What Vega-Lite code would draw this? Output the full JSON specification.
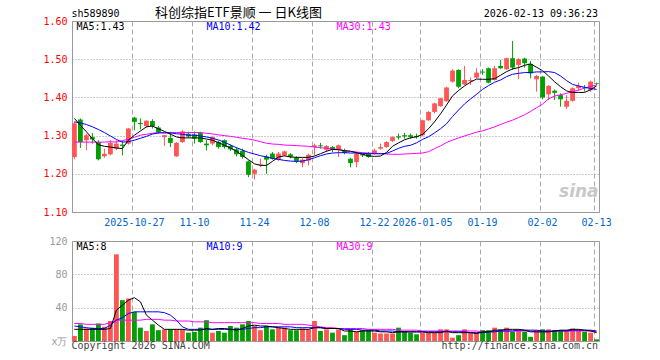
{
"$schema": "https://vega.github.io/schema/vega-lite/v6.json",
"background": "white",
"padding": {"left": 42, "top": 6, "right": 0, "bottom": 0},
"bounds": "flush",
"spacing": 29,
"config": {"font": "DejaVu Sans Mono", "view": {"stroke": "#999999", "strokeWidth": 1}},
"datasets": {"k": [
{"d":"2025-10-13","o":1.244,"h":1.336,"l":1.238,"c":1.332,"v":6,"m5":1.345,"m10":1.336,"m30":1.283,"v5":14,"v10":18,"v30":21},
{"d":"2025-10-14","o":1.342,"h":1.345,"l":1.2675,"c":1.283,"v":20,"m5":1.327,"m10":1.333,"m30":1.283,"v5":14,"v10":17,"v30":21},
{"d":"2025-10-15","o":1.288,"h":1.305,"l":1.2615,"c":1.301,"v":15,"m5":1.31,"m10":1.329,"m30":1.283,"v5":14,"v10":16,"v30":20},
{"d":"2025-10-16","o":1.296,"h":1.307,"l":1.279,"c":1.29,"v":16,"m5":1.292,"m10":1.323,"m30":1.283,"v5":14,"v10":15,"v30":20},
{"d":"2025-10-17","o":1.283,"h":1.288,"l":1.235,"c":1.238,"v":21,"m5":1.276,"m10":1.316,"m30":1.283,"v5":14,"v10":15,"v30":20},
{"d":"2025-10-20","o":1.2457,"h":1.2658,"l":1.242,"c":1.2527,"v":17,"m5":1.272,"m10":1.308,"m30":1.283,"v5":14,"v10":15,"v30":20},
{"d":"2025-10-21","o":1.251,"h":1.288,"l":1.248,"c":1.281,"v":24,"m5":1.27,"m10":1.299,"m30":1.284,"v5":15,"v10":19,"v30":22},
{"d":"2025-10-22","o":1.2658,"h":1.288,"l":1.2615,"c":1.279,"v":104,"m5":1.2675,"m10":1.29,"m30":1.283,"v5":37,"v10":25,"v30":25},
{"d":"2025-10-23","o":1.2764,"h":1.286,"l":1.248,"c":1.273,"v":49,"m5":1.266,"m10":1.283,"m30":1.287,"v5":43,"v10":28,"v30":25},
{"d":"2025-10-24","o":1.279,"h":1.32,"l":1.2764,"c":1.3185,"v":51,"m5":1.288,"m10":1.284,"m30":1.29,"v5":49,"v10":33,"v30":25},
{"d":"2025-10-27","o":1.347,"h":1.349,"l":1.314,"c":1.336,"v":35,"m5":1.301,"m10":1.288,"m30":1.2956,"v5":52,"v10":35,"v30":25},
{"d":"2025-10-28","o":1.333,"h":1.345,"l":1.316,"c":1.33,"v":16,"m5":1.312,"m10":1.293,"m30":1.301,"v5":47,"v10":35,"v30":25},
{"d":"2025-10-29","o":1.325,"h":1.34,"l":1.321,"c":1.339,"v":12,"m5":1.323,"m10":1.298,"m30":1.3035,"v5":31,"v10":35,"v30":26},
{"d":"2025-10-30","o":1.338,"h":1.343,"l":1.3185,"c":1.325,"v":20,"m5":1.325,"m10":1.304,"m30":1.306,"v5":25,"v10":35,"v30":26},
{"d":"2025-10-31","o":1.321,"h":1.325,"l":1.305,"c":1.309,"v":13,"m5":1.318,"m10":1.307,"m30":1.308,"v5":19,"v10":35,"v30":26},
{"d":"2025-11-03","o":1.296,"h":1.301,"l":1.273,"c":1.301,"v":14,"m5":1.311,"m10":1.307,"m30":1.308,"v5":14,"v10":34,"v30":25},
{"d":"2025-11-04","o":1.294,"h":1.31,"l":1.27,"c":1.281,"v":14,"m5":1.3035,"m10":1.307,"m30":1.308,"v5":14,"v10":31,"v30":25},
{"d":"2025-11-05","o":1.2457,"h":1.283,"l":1.244,"c":1.281,"v":14,"m5":1.2965,"m10":1.305,"m30":1.308,"v5":14,"v10":25,"v30":24},
{"d":"2025-11-06","o":1.283,"h":1.314,"l":1.281,"c":1.311,"v":14,"m5":1.294,"m10":1.3035,"m30":1.308,"v5":14,"v10":17,"v30":24},
{"d":"2025-11-07","o":1.305,"h":1.31,"l":1.294,"c":1.298,"v":10,"m5":1.294,"m10":1.301,"m30":1.308,"v5":13,"v10":14,"v30":24},
{"d":"2025-11-10","o":1.303,"h":1.31,"l":1.279,"c":1.292,"v":11,"m5":1.294,"m10":1.301,"m30":1.308,"v5":13,"v10":14,"v30":23},
{"d":"2025-11-11","o":1.307,"h":1.31,"l":1.281,"c":1.283,"v":16,"m5":1.294,"m10":1.299,"m30":1.308,"v5":13,"v10":14,"v30":23},
{"d":"2025-11-12","o":1.279,"h":1.288,"l":1.2615,"c":1.2746,"v":25,"m5":1.291,"m10":1.2965,"m30":1.306,"v5":15,"v10":14,"v30":23},
{"d":"2025-11-13","o":1.279,"h":1.298,"l":1.2746,"c":1.296,"v":10,"m5":1.288,"m10":1.293,"m30":1.3044,"v5":14,"v10":14,"v30":22},
{"d":"2025-11-14","o":1.283,"h":1.286,"l":1.2658,"c":1.27,"v":12,"m5":1.2816,"m10":1.2886,"m30":1.3018,"v5":15,"v10":14,"v30":22},
{"d":"2025-11-17","o":1.288,"h":1.29,"l":1.2658,"c":1.27,"v":10,"m5":1.2746,"m10":1.2825,"m30":1.3,"v5":15,"v10":14,"v30":22},
{"d":"2025-11-18","o":1.273,"h":1.277,"l":1.26,"c":1.264,"v":18,"m5":1.2675,"m10":1.2754,"m30":1.298,"v5":14,"v10":14,"v30":22},
{"d":"2025-11-19","o":1.264,"h":1.27,"l":1.2457,"c":1.251,"v":16,"m5":1.259,"m10":1.2684,"m30":1.2956,"v5":13,"v10":14,"v30":22},
{"d":"2025-11-20","o":1.26,"h":1.2658,"l":1.2395,"c":1.244,"v":20,"m5":1.248,"m10":1.262,"m30":1.293,"v5":15,"v10":14,"v30":22},
{"d":"2025-11-21","o":1.2325,"h":1.235,"l":1.1913,"c":1.1975,"v":24,"m5":1.237,"m10":1.256,"m30":1.291,"v5":18,"v10":15,"v30":22},
{"d":"2025-11-24","o":1.2,"h":1.213,"l":1.185,"c":1.2108,"v":18,"m5":1.226,"m10":1.2518,"m30":1.288,"v5":19,"v10":16,"v30":22},
{"d":"2025-11-25","o":1.224,"h":1.2395,"l":1.2174,"c":1.226,"v":13,"m5":1.222,"m10":1.2474,"m30":1.284,"v5":18,"v10":16,"v30":21},
{"d":"2025-11-26","o":1.2455,"h":1.25,"l":1.2,"c":1.237,"v":18,"m5":1.222,"m10":1.244,"m30":1.28,"v5":18,"v10":17,"v30":21},
{"d":"2025-11-27","o":1.253,"h":1.257,"l":1.237,"c":1.2395,"v":14,"m5":1.2325,"m10":1.2404,"m30":1.278,"v5":17,"v10":17,"v30":21},
{"d":"2025-11-28","o":1.237,"h":1.257,"l":1.233,"c":1.253,"v":16,"m5":1.244,"m10":1.2377,"m30":1.277,"v5":16,"v10":17,"v30":21},
{"d":"2025-12-01","o":1.248,"h":1.261,"l":1.246,"c":1.2587,"v":16,"m5":1.247,"m10":1.235,"m30":1.2754,"v5":15,"v10":17,"v30":20},
{"d":"2025-12-02","o":1.251,"h":1.254,"l":1.24,"c":1.2445,"v":13,"m5":1.244,"m10":1.2333,"m30":1.2746,"v5":14,"v10":17,"v30":20},
{"d":"2025-12-03","o":1.242,"h":1.246,"l":1.228,"c":1.233,"v":13,"m5":1.243,"m10":1.2325,"m30":1.2737,"v5":14,"v10":16,"v30":20},
{"d":"2025-12-04","o":1.228,"h":1.241,"l":1.2174,"c":1.237,"v":15,"m5":1.243,"m10":1.2333,"m30":1.2728,"v5":14,"v10":16,"v30":20},
{"d":"2025-12-05","o":1.235,"h":1.2527,"l":1.222,"c":1.25,"v":14,"m5":1.243,"m10":1.2368,"m30":1.272,"v5":14,"v10":16,"v30":19},
{"d":"2025-12-08","o":1.27,"h":1.279,"l":1.248,"c":1.2745,"v":24,"m5":1.2465,"m10":1.242,"m30":1.27,"v5":16,"v10":16,"v30":18},
{"d":"2025-12-09","o":1.2745,"h":1.281,"l":1.266,"c":1.272,"v":12,"m5":1.2526,"m10":1.2474,"m30":1.2684,"v5":16,"v10":16,"v30":17},
{"d":"2025-12-10","o":1.263,"h":1.275,"l":1.257,"c":1.2727,"v":14,"m5":1.259,"m10":1.2518,"m30":1.2667,"v5":15,"v10":15,"v30":16},
{"d":"2025-12-11","o":1.27,"h":1.273,"l":1.257,"c":1.263,"v":10,"m5":1.264,"m10":1.2544,"m30":1.265,"v5":15,"v10":15,"v30":16},
{"d":"2025-12-12","o":1.264,"h":1.2764,"l":1.244,"c":1.2746,"v":14,"m5":1.263,"m10":1.2553,"m30":1.264,"v5":15,"v10":15,"v30":15},
{"d":"2025-12-15","o":1.26,"h":1.2658,"l":1.251,"c":1.2545,"v":7,"m5":1.2605,"m10":1.2553,"m30":1.2605,"v5":12,"v10":14,"v30":15},
{"d":"2025-12-16","o":1.2395,"h":1.242,"l":1.217,"c":1.228,"v":14,"m5":1.259,"m10":1.2544,"m30":1.2588,"v5":12,"v10":14,"v30":15},
{"d":"2025-12-17","o":1.2307,"h":1.257,"l":1.217,"c":1.2527,"v":11,"m5":1.2553,"m10":1.2544,"m30":1.257,"v5":11,"v10":14,"v30":15},
{"d":"2025-12-18","o":1.251,"h":1.2527,"l":1.244,"c":1.248,"v":13,"m5":1.251,"m10":1.2535,"m30":1.2553,"v5":12,"v10":13,"v30":15},
{"d":"2025-12-19","o":1.2527,"h":1.257,"l":1.242,"c":1.244,"v":13,"m5":1.247,"m10":1.2526,"m30":1.2544,"v5":12,"v10":13,"v30":14},
{"d":"2025-12-22","o":1.2527,"h":1.2658,"l":1.25,"c":1.2615,"v":10,"m5":1.2456,"m10":1.2526,"m30":1.2535,"v5":12,"v10":13,"v30":14},
{"d":"2025-12-23","o":1.2658,"h":1.279,"l":1.263,"c":1.27,"v":9,"m5":1.2465,"m10":1.2526,"m30":1.2526,"v5":11,"v10":12,"v30":14},
{"d":"2025-12-24","o":1.27,"h":1.2855,"l":1.2685,"c":1.283,"v":9,"m5":1.256,"m10":1.2535,"m30":1.2518,"v5":11,"v10":12,"v30":14},
{"d":"2025-12-25","o":1.286,"h":1.298,"l":1.283,"c":1.296,"v":9,"m5":1.272,"m10":1.2596,"m30":1.251,"v5":10,"v10":12,"v30":14},
{"d":"2025-12-26","o":1.298,"h":1.305,"l":1.29,"c":1.295,"v":16,"m5":1.281,"m10":1.2667,"m30":1.251,"v5":11,"v10":11,"v30":13},
{"d":"2025-12-29","o":1.301,"h":1.307,"l":1.292,"c":1.298,"v":12,"m5":1.289,"m10":1.272,"m30":1.2518,"v5":11,"v10":11,"v30":13},
{"d":"2025-12-30","o":1.301,"h":1.305,"l":1.292,"c":1.296,"v":10,"m5":1.294,"m10":1.2746,"m30":1.2526,"v5":11,"v10":11,"v30":13},
{"d":"2025-12-31","o":1.299,"h":1.305,"l":1.292,"c":1.296,"v":8,"m5":1.297,"m10":1.281,"m30":1.2535,"v5":11,"v10":11,"v30":13},
{"d":"2026-01-05","o":1.301,"h":1.342,"l":1.298,"c":1.34,"v":10,"m5":1.303,"m10":1.29,"m30":1.2544,"v5":11,"v10":11,"v30":12},
{"d":"2026-01-06","o":1.34,"h":1.364,"l":1.339,"c":1.362,"v":10,"m5":1.318,"m10":1.297,"m30":1.258,"v5":10,"v10":11,"v30":12},
{"d":"2026-01-07","o":1.362,"h":1.386,"l":1.358,"c":1.3842,"v":10,"m5":1.336,"m10":1.307,"m30":1.266,"v5":10,"v10":11,"v30":12},
{"d":"2026-01-08","o":1.377,"h":1.399,"l":1.3755,"c":1.3975,"v":14,"m5":1.357,"m10":1.318,"m30":1.273,"v5":10,"v10":11,"v30":12},
{"d":"2026-01-09","o":1.39,"h":1.428,"l":1.3886,"c":1.426,"v":14,"m5":1.38,"m10":1.331,"m30":1.282,"v5":12,"v10":11,"v30":12},
{"d":"2026-01-12","o":1.4412,"h":1.4737,"l":1.4386,"c":1.4702,"v":4,"m5":1.404,"m10":1.35,"m30":1.288,"v5":10,"v10":11,"v30":12},
{"d":"2026-01-13","o":1.472,"h":1.4737,"l":1.424,"c":1.428,"v":7,"m5":1.418,"m10":1.367,"m30":1.294,"v5":10,"v10":11,"v30":12},
{"d":"2026-01-14","o":1.434,"h":1.4825,"l":1.4325,"c":1.4456,"v":14,"m5":1.43,"m10":1.383,"m30":1.299,"v5":10,"v10":11,"v30":12},
{"d":"2026-01-15","o":1.443,"h":1.4526,"l":1.4325,"c":1.4456,"v":10,"m5":1.44,"m10":1.396,"m30":1.304,"v5":10,"v10":10,"v30":12},
{"d":"2026-01-16","o":1.4518,"h":1.4763,"l":1.45,"c":1.465,"v":10,"m5":1.448,"m10":1.408,"m30":1.309,"v5":9,"v10":10,"v30":12},
{"d":"2026-01-19","o":1.4676,"h":1.4737,"l":1.459,"c":1.465,"v":13,"m5":1.4474,"m10":1.421,"m30":1.3123,"v5":11,"v10":10,"v30":11},
{"d":"2026-01-20","o":1.4763,"h":1.478,"l":1.4368,"c":1.4386,"v":13,"m5":1.4474,"m10":1.431,"m30":1.3175,"v5":11,"v10":11,"v30":11},
{"d":"2026-01-21","o":1.4456,"h":1.4825,"l":1.4439,"c":1.4763,"v":16,"m5":1.449,"m10":1.4395,"m30":1.3228,"v5":13,"v10":11,"v30":11},
{"d":"2026-01-22","o":1.4825,"h":1.498,"l":1.4737,"c":1.4763,"v":14,"m5":1.458,"m10":1.4456,"m30":1.329,"v5":13,"v10":12,"v30":12},
{"d":"2026-01-23","o":1.4737,"h":1.504,"l":1.472,"c":1.5026,"v":16,"m5":1.4675,"m10":1.4544,"m30":1.335,"v5":14,"v10":12,"v30":12},
{"d":"2026-01-26","o":1.5026,"h":1.548,"l":1.472,"c":1.478,"v":11,"m5":1.4746,"m10":1.4605,"m30":1.3404,"v5":14,"v10":12,"v30":12},
{"d":"2026-01-27","o":1.485,"h":1.5026,"l":1.4474,"c":1.5,"v":13,"m5":1.478,"m10":1.463,"m30":1.3474,"v5":14,"v10":13,"v30":12},
{"d":"2026-01-28","o":1.5017,"h":1.504,"l":1.478,"c":1.4895,"v":11,"m5":1.484,"m10":1.465,"m30":1.3544,"v5":13,"v10":13,"v30":12},
{"d":"2026-01-29","o":1.4877,"h":1.4956,"l":1.45,"c":1.463,"v":5,"m5":1.4877,"m10":1.465,"m30":1.3632,"v5":11,"v10":13,"v30":12},
{"d":"2026-01-30","o":1.4474,"h":1.459,"l":1.415,"c":1.456,"v":13,"m5":1.479,"m10":1.4667,"m30":1.3728,"v5":11,"v10":13,"v30":11},
{"d":"2026-02-02","o":1.4544,"h":1.456,"l":1.395,"c":1.4,"v":14,"m5":1.47,"m10":1.4667,"m30":1.3825,"v5":11,"v10":12,"v30":11},
{"d":"2026-02-03","o":1.408,"h":1.4325,"l":1.393,"c":1.43,"v":14,"m5":1.456,"m10":1.4675,"m30":1.3965,"v5":11,"v10":12,"v30":11},
{"d":"2026-02-04","o":1.4175,"h":1.421,"l":1.393,"c":1.412,"v":13,"m5":1.441,"m10":1.465,"m30":1.4035,"v5":12,"v10":12,"v30":12},
{"d":"2026-02-05","o":1.406,"h":1.4105,"l":1.3755,"c":1.395,"v":13,"m5":1.428,"m10":1.456,"m30":1.407,"v5":13,"v10":12,"v30":12},
{"d":"2026-02-06","o":1.3755,"h":1.406,"l":1.37,"c":1.391,"v":13,"m5":1.417,"m10":1.444,"m30":1.4105,"v5":13,"v10":12,"v30":12},
{"d":"2026-02-09","o":1.391,"h":1.426,"l":1.3886,"c":1.424,"v":15,"m5":1.413,"m10":1.434,"m30":1.415,"v5":14,"v10":13,"v30":12},
{"d":"2026-02-10","o":1.424,"h":1.4386,"l":1.4175,"c":1.43,"v":13,"m5":1.413,"m10":1.43,"m30":1.419,"v5":14,"v10":13,"v30":12},
{"d":"2026-02-11","o":1.426,"h":1.4325,"l":1.415,"c":1.424,"v":11,"m5":1.413,"m10":1.4263,"m30":1.4246,"v5":13,"v10":13,"v30":12},
{"d":"2026-02-12","o":1.419,"h":1.4439,"l":1.415,"c":1.4412,"v":10,"m5":1.42,"m10":1.4237,"m30":1.429,"v5":12,"v10":13,"v30":12},
{"d":"2026-02-13","o":1.4368,"h":1.4386,"l":1.4325,"c":1.435,"v":2,"m5":1.43,"m10":1.421,"m30":1.4325,"v5":10,"v10":12,"v30":11}
]},
"vconcat": [
{
"width": 527, "height": 191,
"data": {"name": "k"},
"encoding": {"x": {"field": "d", "type": "ordinal", "scale": {"type": "band", "paddingInner": 0.2, "paddingOuter": 0},
  "axis": {"values": ["2025-10-27","2025-11-10","2025-11-24","2025-12-08","2025-12-22","2026-01-05","2026-01-19","2026-02-02","2026-02-13"],
   "labelExpr": "(datum.value == '2025-10-27' || datum.value == '2026-01-05') ? datum.value : slice(datum.value, 5)",
   "bandPosition": 0, "grid": true, "gridDash": [5,3], "gridColor": "#aaaaaa", "ticks": false, "domain": false,
   "labelColor": "#0066cc", "labelFontSize": 10, "labelPadding": 5, "labelAngle": 0, "labelOverlap": false, "title": null}}},
"layer": [
 {"mark": {"type": "rule", "strokeWidth": 1},
  "encoding": {"y": {"field": "l", "type": "quantitative", "title": null, "scale": {"domain": [1.1, 1.6], "zero": false, "nice": false},
     "axis": {"values": [1.1,1.2,1.3,1.4,1.5,1.6], "tickCount": 20, "format": ".2f", "grid": true, "gridDash": [1,2], "gridColor": "#999999", "labelColor": "#ff0000", "ticks": false, "domain": false, "labelPadding": 5, "labelFontSize": 10, "labelOverlap": false, "labelBound": false, "labelFlush": false}},
   "y2": {"field": "h"},
   "color": {"condition": {"test": "datum.c >= datum.o", "value": "#ff5555"}, "value": "#00a000"}}},
 {"mark": {"type": "bar"},
  "encoding": {"y": {"field": "o", "type": "quantitative", "title": null}, "y2": {"field": "c"},
   "color": {"condition": {"test": "datum.c >= datum.o", "value": "#ff5555"}, "value": "#00a000"}}},
 {"mark": {"type": "line", "color": "#ff00ff", "strokeWidth": 1}, "encoding": {"y": {"field": "m30", "type": "quantitative", "title": null}}},
 {"mark": {"type": "line", "color": "#0000ff", "strokeWidth": 1}, "encoding": {"y": {"field": "m10", "type": "quantitative", "title": null}}},
 {"mark": {"type": "line", "color": "#000000", "strokeWidth": 1}, "encoding": {"y": {"field": "m5", "type": "quantitative", "title": null}}},
 {"data": {"values": [{"t": "sh589890"}]}, "mark": {"type": "text", "align": "left", "baseline": "alphabetic", "dx": -3, "dy": -4, "fontSize": 10, "color": "#000000"},
  "encoding": {"x": {"datum": "2025-10-13"}, "y": {"datum": 1.6}, "text": {"field": "t"}}},
 {"data": {"values": [{"t": "科创综指ETF景顺 一 日K线图"}]}, "mark": {"type": "text", "align": "center", "baseline": "alphabetic", "dx": 2, "dy": -4, "fontSize": 13, "font": "Noto Sans CJK SC", "color": "#000000"},
  "encoding": {"x": {"datum": "2025-11-19"}, "y": {"datum": 1.6}, "text": {"field": "t"}}},
 {"data": {"values": [{"t": "2026-02-13 09:36:23"}]}, "mark": {"type": "text", "align": "right", "baseline": "alphabetic", "dx": 1.5, "dy": -4, "fontSize": 10, "color": "#000000"},
  "encoding": {"x": {"datum": "2026-02-13"}, "y": {"datum": 1.6}, "text": {"field": "t"}}},
 {"data": {"values": [{"t": "MA5:1.43"}]}, "mark": {"type": "text", "align": "left", "baseline": "top", "dx": 2, "dy": 1, "fontSize": 10, "color": "#000000"},
  "encoding": {"x": {"datum": "2025-10-13"}, "y": {"datum": 1.6}, "text": {"field": "t"}}},
 {"data": {"values": [{"t": "MA10:1.42"}]}, "mark": {"type": "text", "align": "left", "baseline": "top", "dx": 0, "dy": 1, "fontSize": 10, "color": "#0000ff"},
  "encoding": {"x": {"datum": "2025-11-12"}, "y": {"datum": 1.6}, "text": {"field": "t"}}},
 {"data": {"values": [{"t": "MA30:1.43"}]}, "mark": {"type": "text", "align": "left", "baseline": "top", "dx": -2, "dy": 1, "fontSize": 10, "color": "#ff00ff"},
  "encoding": {"x": {"datum": "2025-12-12"}, "y": {"datum": 1.6}, "text": {"field": "t"}}},
 {"data": {"values": [{"t": "sina"}]}, "mark": {"type": "text", "align": "right", "baseline": "bottom", "dx": 2, "fontSize": 17, "font": "DejaVu Sans", "fontStyle": "italic", "fontWeight": "bold", "color": "#c8c8c8"},
  "encoding": {"x": {"datum": "2026-02-13"}, "y": {"datum": 1.13}, "text": {"field": "t"}}}
]
},
{
"width": 527, "height": 100,
"data": {"name": "k"},
"encoding": {"x": {"field": "d", "type": "ordinal", "scale": {"type": "band", "paddingInner": 0.2, "paddingOuter": 0},
  "axis": {"values": ["2025-10-27","2025-11-10","2025-11-24","2025-12-08","2025-12-22","2026-01-05","2026-01-19","2026-02-02","2026-02-13"],
   "bandPosition": 0, "grid": true, "gridDash": [5,3], "gridColor": "#aaaaaa", "ticks": false, "domain": false, "labels": false, "title": null}}},
"layer": [
 {"mark": {"type": "bar"},
  "encoding": {"y": {"field": "v", "type": "quantitative", "title": null, "scale": {"domain": [0, 120], "nice": false},
     "axis": {"values": [0,40,80,120], "tickCount": 20, "labelExpr": "datum.value == 0 ? 'x万' : datum.label", "grid": true, "gridDash": [1,2], "gridColor": "#999999", "labelColor": "#999999", "ticks": false, "domain": false, "labelPadding": 5, "labelFontSize": 10, "labelOverlap": false, "labelBound": false, "labelFlush": false}},
   "color": {"condition": {"test": "datum.c >= datum.o", "value": "#ff5555"}, "value": "#00a000"}}},
 {"mark": {"type": "line", "color": "#ff00ff", "strokeWidth": 1}, "encoding": {"y": {"field": "v30", "type": "quantitative", "title": null}}},
 {"mark": {"type": "line", "color": "#0000ff", "strokeWidth": 1}, "encoding": {"y": {"field": "v10", "type": "quantitative", "title": null}}},
 {"mark": {"type": "line", "color": "#000000", "strokeWidth": 1}, "encoding": {"y": {"field": "v5", "type": "quantitative", "title": null}}},
 {"data": {"values": [{"t": "MA5:8"}]}, "mark": {"type": "text", "align": "left", "baseline": "top", "dx": 2, "dy": 1, "fontSize": 10, "color": "#000000"},
  "encoding": {"x": {"datum": "2025-10-13"}, "y": {"datum": 120}, "text": {"field": "t"}}},
 {"data": {"values": [{"t": "MA10:9"}]}, "mark": {"type": "text", "align": "left", "baseline": "top", "dx": 0, "dy": 1, "fontSize": 10, "color": "#0000ff"},
  "encoding": {"x": {"datum": "2025-11-12"}, "y": {"datum": 120}, "text": {"field": "t"}}},
 {"data": {"values": [{"t": "MA30:9"}]}, "mark": {"type": "text", "align": "left", "baseline": "top", "dx": -2, "dy": 1, "fontSize": 10, "color": "#ff00ff"},
  "encoding": {"x": {"datum": "2025-12-12"}, "y": {"datum": 120}, "text": {"field": "t"}}},
 {"data": {"values": [{"t": "Copyright 2026 SINA.COM"}]}, "mark": {"type": "text", "align": "left", "baseline": "alphabetic", "dx": -3, "dy": 8, "fontSize": 10, "color": "#444444"},
  "encoding": {"x": {"datum": "2025-10-13"}, "y": {"datum": 0}, "text": {"field": "t"}}},
 {"data": {"values": [{"t": "http://finance.sina.com.cn"}]}, "mark": {"type": "text", "align": "right", "baseline": "alphabetic", "dx": 1.5, "dy": 8, "fontSize": 10, "color": "#444444"},
  "encoding": {"x": {"datum": "2026-02-13"}, "y": {"datum": 0}, "text": {"field": "t"}}}
]
}
]
}
